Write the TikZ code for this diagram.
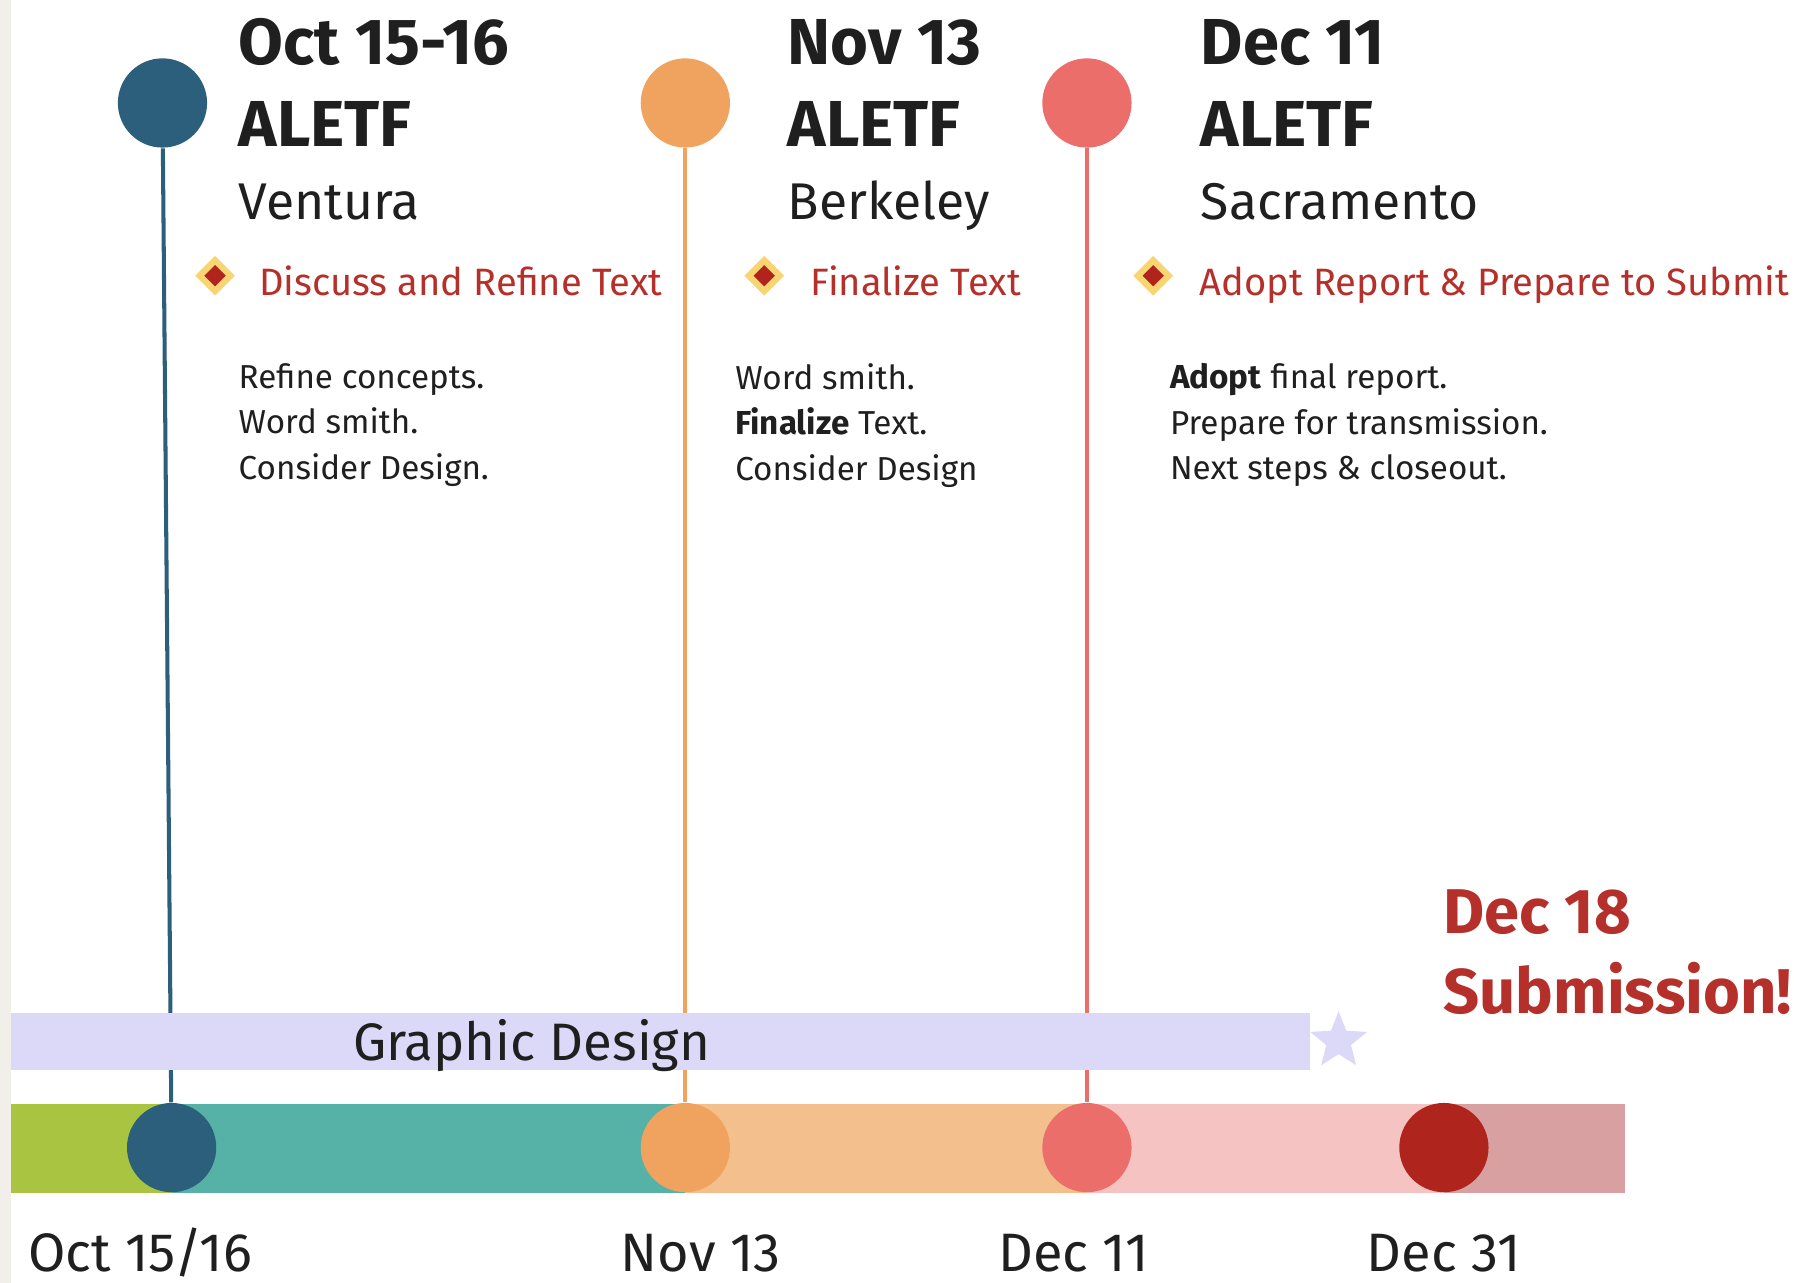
\documentclass[tikz,border=0pt]{standalone}
\usepackage{fontspec}
\setmainfont{Fira Sans}
\usetikzlibrary{shapes.geometric,backgrounds}
\definecolor{ink}{HTML}{1F1F1F}
\definecolor{navy}{HTML}{2B5F7B}
\definecolor{apricot}{HTML}{F0A35E}
\definecolor{coral}{HTML}{EC6E6A}
\definecolor{crimson}{HTML}{AF251D}
\definecolor{redtext}{HTML}{B5302B}
\definecolor{gold}{HTML}{F8D472}
\definecolor{lime}{HTML}{A9C440}
\definecolor{teal}{HTML}{56B1A6}
\definecolor{peach}{HTML}{F3BF8C}
\definecolor{blush}{HTML}{F4C3C2}
\definecolor{rose}{HTML}{D8A0A0}
\definecolor{lavender}{HTML}{DCD8F8}
\definecolor{beige}{HTML}{F2EFEA}

\begin{document}
\begin{tikzpicture}[x=0.011441cm, y=-0.011441cm,
        dot/.style={circle, fill=#1, minimum size=25.4pt, inner sep=0pt},
        stem/.style={draw=#1, line width=1.15pt},
        head/.style={anchor=base west, inner sep=0pt, text=ink, font=\fontsize{18.5}{18.5}\selectfont\bfseries},
        place/.style={anchor=base west, inner sep=0pt, text=ink, font=\fontsize{14.7}{14.7}\selectfont},
        marker/.style={diamond, fill=crimson, draw=gold, line width=1.8pt, minimum size=9.5pt, inner sep=0pt},
        task/.style={anchor=base west, inner sep=0pt, text=redtext, font=\fontsize{10.85}{10.85}\selectfont},
        notes/.style={anchor=north west, align=left, inner sep=0pt, text=ink, font=\fontsize{9.45}{13}\selectfont},
        date/.style={anchor=base west, inner sep=0pt, text=ink, font=\fontsize{15.4}{15.4}\selectfont}]
    \useasboundingbox (0,0) rectangle (1568,1121);
    \fill[beige] (0,0) rectangle (10,1121);

    % milestones on top
    \node[dot=navy] (t1) at (142, 90) {};
    \node[dot=apricot] (t2) at (599, 90) {};
    \node[dot=coral] (t3) at (950, 90) {};

    \node[head] (d1) at (208, 56) {Oct 15-16};
    \node[head] (a1) at (208, 128) {ALETF};
    \node[place] (p1) at (208, 192) {Ventura};
    \node[marker] (m1) at (188, 241) {};
    \node[task] (k1) at (226, 258) {Discuss and Refine Text};
    \node[notes] (n1) at (208, 317) {Refine concepts.\\Word smith.\\Consider Design.};

    \node[head] (d2) at (688, 56) {Nov 13};
    \node[head] (a2) at (688, 128) {ALETF};
    \node[place] (p2) at (688, 192) {Berkeley};
    \node[marker] (m2) at (668, 241) {};
    \node[task] (k2) at (708, 258) {Finalize Text};
    \node[notes] (n2) at (642, 317) {Word smith.\\\textbf{Finalize} Text.\\Consider Design};

    \node[head] (d3) at (1049, 56) {Dec 11};
    \node[head] (a3) at (1049, 128) {ALETF};
    \node[place] (p3) at (1049, 192) {Sacramento};
    \node[marker] (m3) at (1008, 241) {};
    \node[task] (k3) at (1048, 258) {Adopt Report \& Prepare to Submit};
    \node[notes] (n3) at (1022, 317) {\textbf{Adopt} final report.\\Prepare for transmission.\\Next steps \& closeout.};

    % timeline
    \node[dot=navy] (b1) at (150, 1003) {};
    \node[dot=apricot] (b2) at (599, 1003) {};
    \node[dot=coral] (b3) at (950, 1003) {};
    \node[dot=crimson] (b4) at (1262, 1003) {};

    \node[anchor=base west, inner sep=0pt, text=ink, font=\fontsize{15}{15}\selectfont] (gd) at (308, 927) {Graphic Design};
    \node[star, star points=5, star point ratio=2.3, fill=lavender, minimum size=17pt, inner sep=0pt] (st) at (1170, 910) {};

    \node[date] (x1) at (24, 1111) {Oct 15/16};
    \node[date] (x2) at (542, 1111) {Nov 13};
    \node[date] (x3) at (872, 1111) {Dec 11};
    \node[date] (x4) at (1194, 1111) {Dec 31};

    \node[anchor=base west, inner sep=0pt, text=redtext, font=\fontsize{18}{18}\selectfont\bfseries] (s1) at (1261, 816) {Dec 18};
    \node[anchor=base west, inner sep=0pt, text=redtext, font=\fontsize{18}{18}\selectfont\bfseries] (s2) at (1261, 886) {Submission!};

    \begin{pgfonlayer}{background}
        \draw[stem=navy] (t1) -- (b1);
        \draw[stem=apricot] (t2) -- (b2);
        \draw[stem=coral] (t3) -- (b3);
        \fill[lavender] (10, 885) rectangle (1145, 935);
        \fill[lime] (10, 965) rectangle (b1 |- 0, 1043);
        \fill[teal] (b1 |- 0, 965) rectangle (599, 1043);
        \fill[peach] (599, 965) rectangle (950, 1043);
        \fill[blush] (950, 965) rectangle (1262, 1043);
        \fill[rose] (1262, 965) rectangle (1420, 1043);
    \end{pgfonlayer}
\end{tikzpicture}
\end{document}
